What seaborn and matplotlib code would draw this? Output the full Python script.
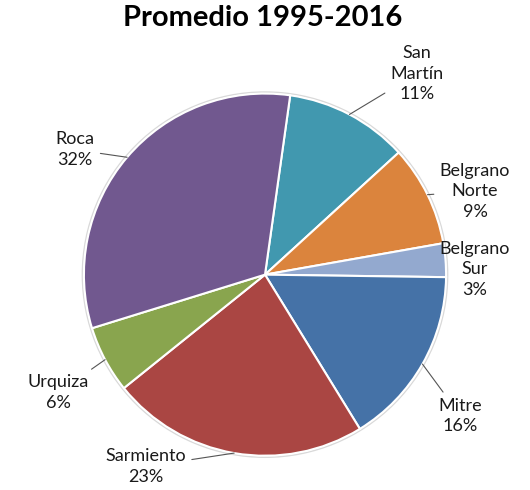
import numpy as np
import seaborn as sns
from matplotlib import pyplot as plt
from matplotlib.patches import Circle

sns.set_theme(style="white")
plt.rcParams["font.family"] = ["Lato", "DejaVu Sans"]

# datos
lineas = ["San\nMartín", "Belgrano\nNorte", "Belgrano\nSur", "Mitre", "Sarmiento", "Urquiza", "Roca"]
porcentajes = [11, 9, 3, 16, 23, 6, 32]
colores = ["#4198AF", "#DB843D", "#93A9CF", "#4572A7", "#AA4643", "#89A54E", "#71588F"]

# ubicacion de las etiquetas (en radios del circulo)
pos_etiquetas = [(0.84, 1.11), (1.16, 0.46), (1.16, 0.03), (1.08, -0.78),
                 (-0.66, -1.06), (-1.14, -0.65), (-1.05, 0.69)]
con_linea = [True, True, False, True, True, True, True]

fig = plt.figure(figsize=(5.3, 4.9), dpi=100)
ax = fig.add_axes([0.1515, 0.0625, 0.697, 0.754])

wedges, _ = ax.pie(porcentajes, colors=sns.color_palette(colores), startangle=82,
                   counterclock=False, radius=1,
                   wedgeprops=dict(edgecolor="white", linewidth=1.5))
ax.add_patch(Circle((0, 0), 1.008, facecolor="none", edgecolor="#d9d9d9", linewidth=1.2, zorder=0))
ax.set_xlim(-1.02, 1.02)
ax.set_ylim(-1.02, 1.02)
ax.set_aspect("equal")
ax.axis("off")

for w, nombre, p, (tx, ty), linea in zip(wedges, lineas, porcentajes, pos_etiquetas, con_linea):
    ang = np.deg2rad((w.theta1 + w.theta2) / 2)
    borde = (np.cos(ang), np.sin(ang))
    texto = f"{nombre}\n{p}%"
    if linea:
        ax.annotate(texto, xy=borde, xytext=(tx, ty), ha="center", va="center",
                    fontsize=13, color="#1a1a1a", linespacing=1.35, annotation_clip=False,
                    arrowprops=dict(arrowstyle="-", color="#555555", lw=0.8,
                                    shrinkA=2, shrinkB=0, connectionstyle="arc3,rad=0"))
    else:
        ax.text(tx, ty, texto, ha="center", va="center", fontsize=13,
                color="#1a1a1a", linespacing=1.35)

fig.text(0.495, 0.963, "Promedio 1995-2016", ha="center", va="center",
         fontsize=21, fontweight="bold", color="black")

fig.savefig("out.png", dpi=100, facecolor="white")
